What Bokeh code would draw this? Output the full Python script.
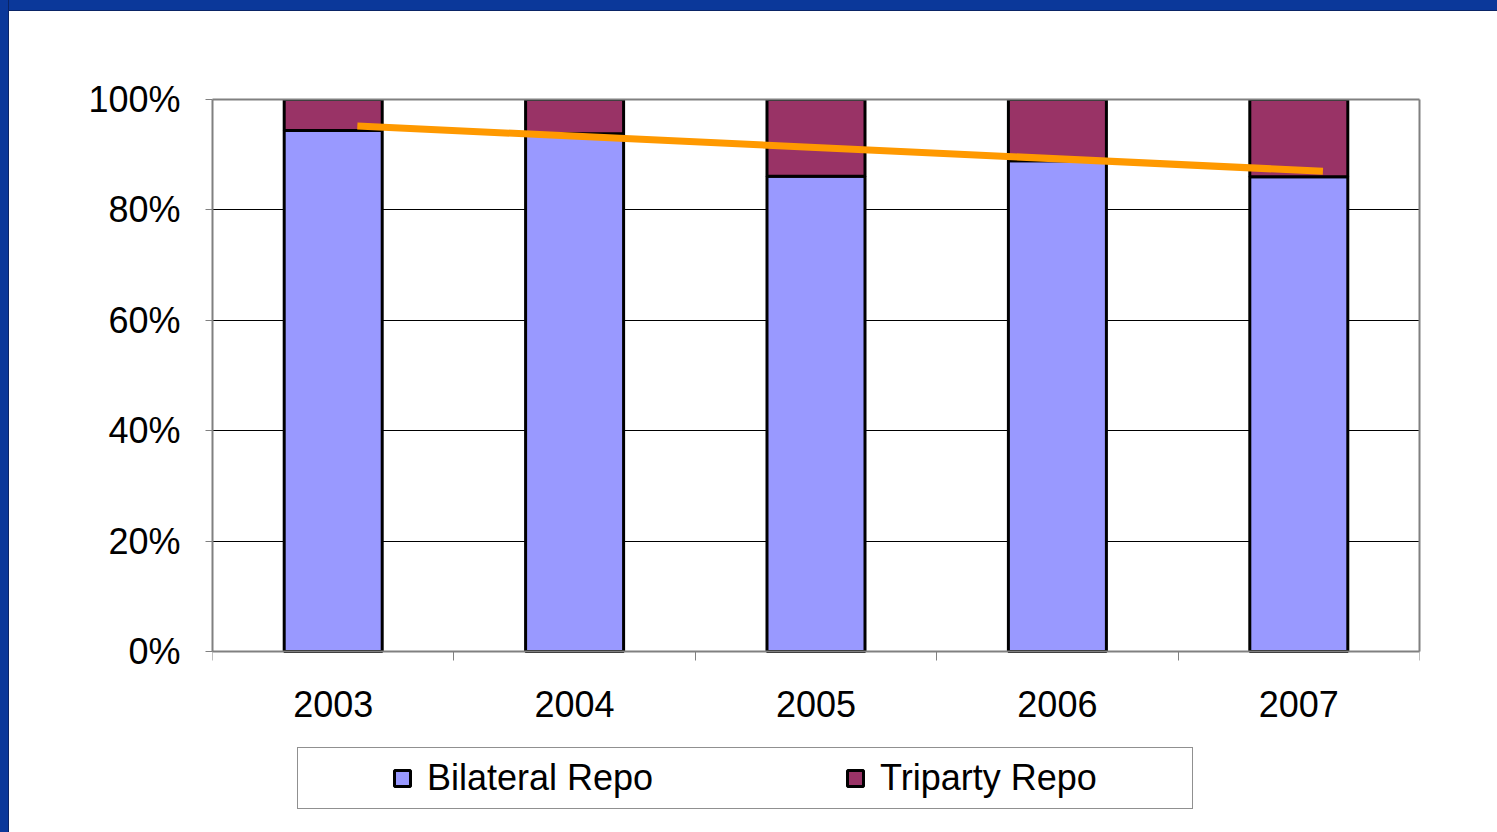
from bokeh.plotting import figure
from bokeh.models import (FixedTicker, PrintfTickFormatter, Legend, LegendItem,
                          Range1d, ColumnDataSource, LinearAxis)
from bokeh.embed import file_html
from bokeh.resources import INLINE

years = ["2003", "2004", "2005", "2006", "2007"]
bilateral = [94.4, 93.8, 86.1, 88.9, 86.0]
triparty = [5.6, 6.2, 13.9, 11.1, 14.0]
trend_ends = [95.2, 87.0]          # linear trend, first and last point
y_ticks = [0, 20, 40, 60, 80, 100]

FONT = "Liberation Sans"
GRAY = "#808080"
xs = list(range(1, len(years) + 1))

# layout: plot area 552px tall for 0..100 %, frame extended 169px below 0 %
PLOT_H = 552
EXTRA = 169
y_low = -100.0 * EXTRA / PLOT_H

src = ColumnDataSource(dict(x=xs, bilateral=bilateral, triparty=triparty))

p = figure(frame_width=1207, frame_height=PLOT_H + EXTRA, output_backend="svg",
           toolbar_location=None,
           x_range=Range1d(0.5, len(years) + 0.5), y_range=Range1d(y_low, 100),
           min_border_left=212, min_border_right=78, min_border_top=99,
           min_border_bottom=12)
p.border_fill_color = None
p.background_fill_color = "white"
p.outline_line_color = None

rs = p.vbar_stack(["bilateral", "triparty"], x="x", width=0.406, source=src,
                  fill_color=["#9999FF", "#993366"], line_color="black", line_width=3)

p.line(x=[xs[0] + 0.1, xs[-1] + 0.1], y=trend_ends, line_color="#FF9900", line_width=7)

# y axis
p.yaxis.ticker = FixedTicker(ticks=y_ticks)
p.yaxis.bounds = (0, 100)
p.yaxis.formatter = PrintfTickFormatter(format="%d%%")
p.yaxis.axis_line_color = GRAY
p.yaxis.axis_line_width = 2
p.yaxis.major_tick_in = 0
p.yaxis.major_tick_out = 7
p.yaxis.major_tick_line_color = GRAY
p.yaxis.minor_tick_line_color = None
p.yaxis.major_label_text_font = FONT
p.yaxis.major_label_text_font_size = "36px"
p.yaxis.major_label_text_color = "black"
p.yaxis.major_label_standoff = 25

# x axis, drawn at 0 %
p.xaxis.fixed_location = 0
p.xaxis.ticker = FixedTicker(ticks=xs, minor_ticks=[x - 0.5 for x in xs] + [xs[-1] + 0.5])
p.xaxis.major_label_overrides = {x: y for x, y in zip(xs, years)}
p.xaxis.axis_line_color = GRAY
p.xaxis.axis_line_width = 2
p.xaxis.major_tick_in = 0
p.xaxis.major_tick_out = 0
p.xaxis.minor_tick_in = 0
p.xaxis.minor_tick_out = 9
p.xaxis.minor_tick_line_color = GRAY
p.xaxis.minor_tick_line_width = 1
p.xaxis.major_label_text_font = FONT
p.xaxis.major_label_text_font_size = "36px"
p.xaxis.major_label_text_color = "black"
p.xaxis.major_label_standoff = 30

# plot-area border on top and right
top_ax = LinearAxis(ticker=FixedTicker(ticks=[]), major_label_text_font_size="0px",
                    axis_line_color=GRAY, axis_line_width=2,
                    major_tick_line_color=None, minor_tick_line_color=None)
p.add_layout(top_ax, "above")
right_ax = LinearAxis(ticker=FixedTicker(ticks=[]), major_label_text_font_size="0px",
                      bounds=(0, 100), axis_line_color=GRAY, axis_line_width=2,
                      major_tick_line_color=None, minor_tick_line_color=None)
p.add_layout(right_ax, "right")

p.xgrid.grid_line_color = None
p.ygrid.grid_line_color = "black"
p.ygrid.grid_line_width = 1

legend = Legend(items=[LegendItem(label="Bilateral Repo", renderers=[rs[0]]),
                       LegendItem(label="Triparty Repo", renderers=[rs[1]])],
                orientation="horizontal", location=(85, 11),
                title=" ", title_location="left", title_text_font_size="1px",
                title_standoff=84,
                padding=9, margin=0, spacing=115, label_standoff=15,
                label_width=303,
                glyph_width=20, glyph_height=20,
                label_text_font=FONT, label_text_font_size="36px",
                label_text_color="black",
                border_line_color="#222222", border_line_width=1,
                background_fill_color="white", background_fill_alpha=1.0)
p.add_layout(legend, "center")

html = file_html(p, INLINE, title="Repo")
style = ("<style>html,body{overflow:hidden;background:"
         "linear-gradient(to right,#0b389a 0px,#0b389a 8px,#0a2466 8px,#0a2466 9px,rgba(0,0,0,0) 9px),"
         "linear-gradient(to bottom,#0b389a 0px,#0b389a 10px,#0a2466 10px,#0a2466 11px,#ffffff 11px);}</style>")
html = html.replace("</head>", style + "</head>", 1)
open("out.html", "w").write(html)
